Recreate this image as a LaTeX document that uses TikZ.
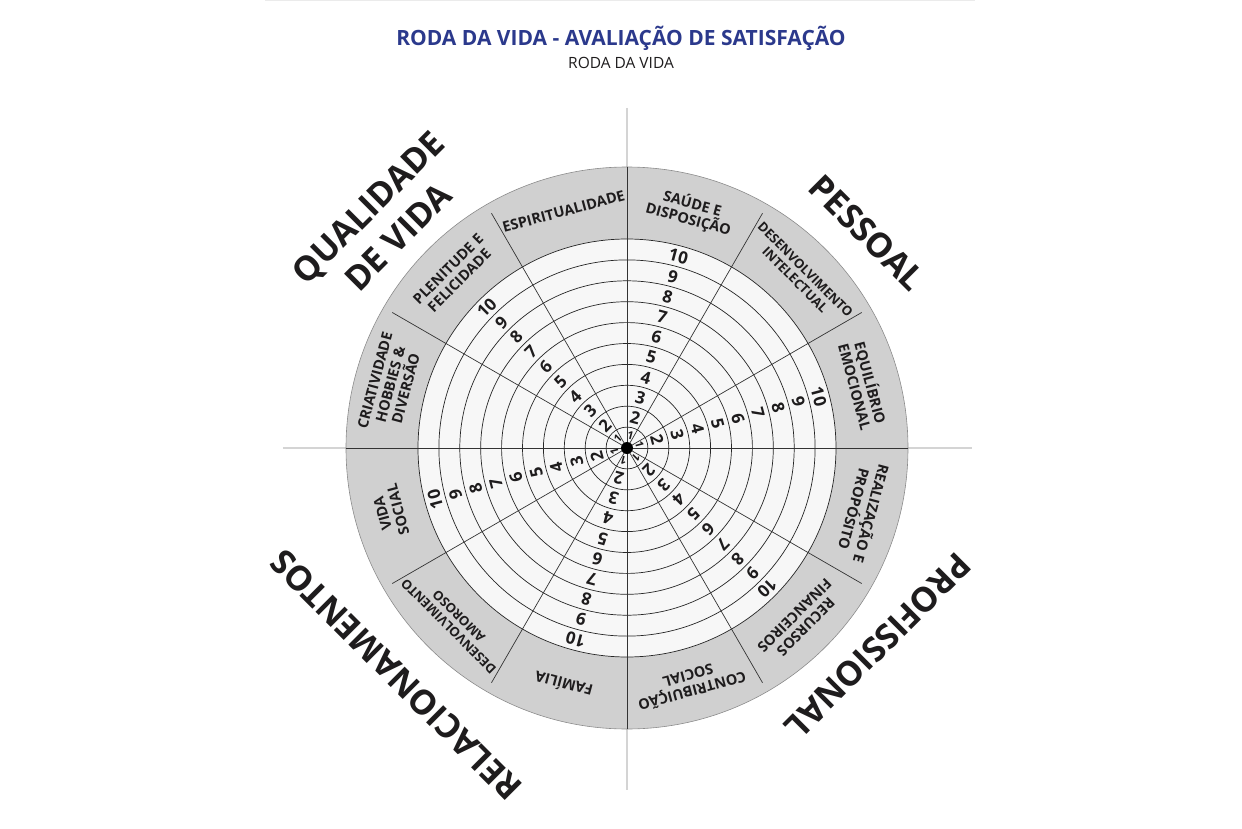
\documentclass[tikz,border=0pt]{standalone}
\usepackage{fontspec}
\setmainfont{Open Sans}
\definecolor{navy}{RGB}{43,57,140}
\definecolor{ringgray}{RGB}{208,208,208}
\definecolor{inkblack}{RGB}{30,28,29}
\tikzset{
  hdr/.style ={font=\bfseries\fontsize{21}{21}\selectfont,text=navy,inner sep=0pt},
  sub/.style ={font=\fontsize{15.5}{15.5}\selectfont,text=inkblack,inner sep=0pt},
  sec/.style ={font=\bfseries\fontsize{14.5}{16}\selectfont,text=inkblack,align=center,inner sep=0pt},
  secs/.style={font=\bfseries\fontsize{13}{14.5}\selectfont,text=inkblack,align=center,inner sep=0pt},
  num/.style ={font=\bfseries\fontsize{17}{17}\selectfont,text=inkblack,inner sep=0pt},
  quad/.style={font=\bfseries\fontsize{34}{42}\selectfont,text=inkblack,align=center,inner sep=0pt},
  axis/.style={draw=black!17,line width=1.3pt},
  spoke/.style={draw=black!80,line width=.7pt},
  ring/.style={draw=black!85,line width=.7pt},
}
\begin{document}
\begin{tikzpicture}[x=1pt,y=1pt]
  \useasboundingbox (-627,-380) rectangle (615,448);
  \draw[black!8,line width=1pt] (-362,447) -- (348,447);
  \node[hdr] (title) at (-6,410) {RODA DA VIDA - AVALIAÇÃO DE SATISFAÇÃO};
  \node[sub] (subtitle) at (-6,385) {RODA DA VIDA};
  % cross behind the wheel
  \draw[axis] (0,340) -- (0,-342);
  \draw[axis] (-344,0) -- (345,0);
  % wheel
  \filldraw[fill=ringgray,draw=black!45,line width=.6pt] (0,0) circle (281);
  \filldraw[fill=black!3,ring] (0,0) circle (209);
  \foreach \k in {1,...,9} \draw[ring] (0,0) circle ({20.9*\k});
  \foreach \a in {30,60,120,150,210,240,300,330} \draw[spoke] (0,0) -- (\a:271);
  \draw[spoke] (0,281) -- (0,-281);
  \draw[spoke] (-281,0) -- (281,0);
  \node[circle,fill=black,inner sep=0pt,minimum size=12pt] (c) at (0,0) {};
  % scale
  \foreach \a in {15,75,135,195,255,315}{
    \foreach \k in {2,...,10}
      \node[num,rotate=\a-90] (n\a-\k) at (\a:{20.9*\k-10.6}) {\k};
    \node[num,font=\bfseries\fontsize{11}{11}\selectfont,rotate=\a-90] (n\a-1) at (\a:13) {1};
  }
  % areas
  \foreach \a/\t in {75/{SAÚDE E\\DISPOSIÇÃO},105/ESPIRITUALIDADE,135/{PLENITUDE E\\FELICIDADE},
                     165/{CRIATIVIDADE\\HOBBIES \&\\DIVERSÃO},195/{VIDA\\SOCIAL},255/FAMÍLIA,
                     285/{CONTRIBUIÇÃO\\SOCIAL},315/{RECURSOS\\FINANCEIROS},
                     345/{REALIZAÇÃO E\\PROPÓSITO},15/{EQUILÍBRIO\\EMOCIONAL}}
    \node[sec,rotate=\a-90] (s\a) at (\a:245) {\t};
  \node[secs,rotate=-45] (s45) at (45:245) {DESENVOLVIMENTO\\INTELECTUAL};
  \node[secs,rotate=135] (s225) at (225:245) {DESENVOLVIMENTO\\AMOROSO};
  % quadrants
  \node[quad,rotate=45] (qv) at (-244,226) {QUALIDADE\\DE VIDA};
  \node[quad,rotate=-45] (ps) at (240,215) {PESSOAL};
  \node[quad,rotate=135] (rl) at (-231,-227) {RELACIONAMENTOS};
  \node[quad,rotate=225] (pf) at (251,-198) {PROFISSIONAL};
\end{tikzpicture}
\end{document}
